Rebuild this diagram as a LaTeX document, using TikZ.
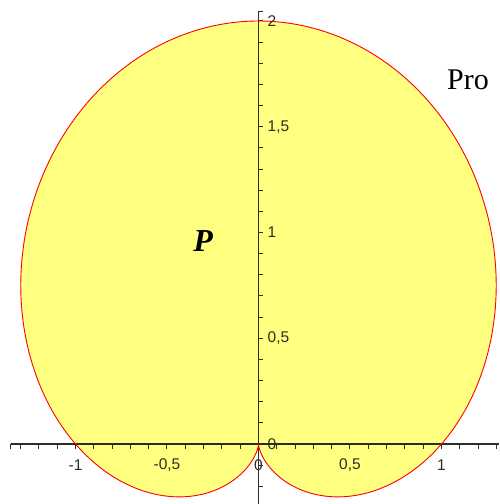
\documentclass[tikz,border=0pt]{standalone}
\usepackage{fontspec}
\setmainfont{Liberation Serif}
\newfontfamily\lblfont{Liberation Sans}
\definecolor{fillyel}{RGB}{255,255,128}
\definecolor{axisgray}{RGB}{45,45,35}
\begin{document}
\begin{tikzpicture}[x=183pt,y=211.5pt,
  axisline/.style={draw=axisgray,line width=1.2pt},
  tickmark/.style={draw=axisgray,line width=1pt},
  curveline/.style={draw=red,line width=0.9pt},
  ticklbl/.style={font=\lblfont\fontsize{15.5}{17}\selectfont,text=axisgray,inner sep=0pt}]
\useasboundingbox (-258.5pt,-60pt) rectangle (240.5pt,444pt);
% filled cardioid
\fill[fillyel] plot[domain=-90:270,samples=361,smooth,variable=\t]
  ({(1+sin(\t))*cos(\t)},{(1+sin(\t))*sin(\t)}) -- cycle;
% axes
\coordinate (xl) at (-1.355,0);
\coordinate (xr) at (240.5pt,0);
\coordinate (yb) at (0,-60pt);
\coordinate (yt) at (0,2.043);
\draw[axisline] (xl) -- (xr);
\draw[axisline] (yb) -- (yt);
\foreach \i in {-13,...,13}{
  \draw[tickmark] (\i/10,0) -- ++(0,-5pt);
}
\draw[tickmark] (xl) -- ++(0,-5pt);
\foreach \j in {-2,...,20}{
  \draw[tickmark] (0,\j/10) -- ++(5pt,0);
}
\draw[tickmark] (yt) -- ++(5pt,0);
% outline
\draw[curveline] plot[domain=-90:270,samples=361,smooth,variable=\t]
  ({(1+sin(\t))*cos(\t)},{(1+sin(\t))*sin(\t)});
% x labels
\node[ticklbl] (lxm1) at (-1,-21pt) {-1};
\node[ticklbl] (lxm05) at (-0.5,-21pt) {-0,5};
\node[ticklbl] (lx0) at (0,-21pt) {0};
\node[ticklbl] (lx05) at (0.5,-21pt) {0,5};
\node[ticklbl] (lx1) at (1,-21pt) {1};
% y labels
\node[ticklbl,anchor=west] (ly0) at (9pt,0) {0};
\node[ticklbl,anchor=west] (ly05) at (9pt,0.5) {0,5};
\node[ticklbl,anchor=west] (ly1) at (9pt,1) {1};
\node[ticklbl,anchor=west] (ly15) at (9pt,1.5) {1,5};
\node[ticklbl,anchor=west] (ly2) at (9pt,2) {2};
% texts
\node[anchor=base,inner sep=0pt,font=\fontsize{30}{32}\selectfont] (pro) at (1.145,1.674) {Pro};
\node[anchor=base,inner sep=0pt,font=\fontsize{32}{34}\selectfont\bfseries\itshape] (p) at (-0.303,0.908) {P};
\end{tikzpicture}
\end{document}
